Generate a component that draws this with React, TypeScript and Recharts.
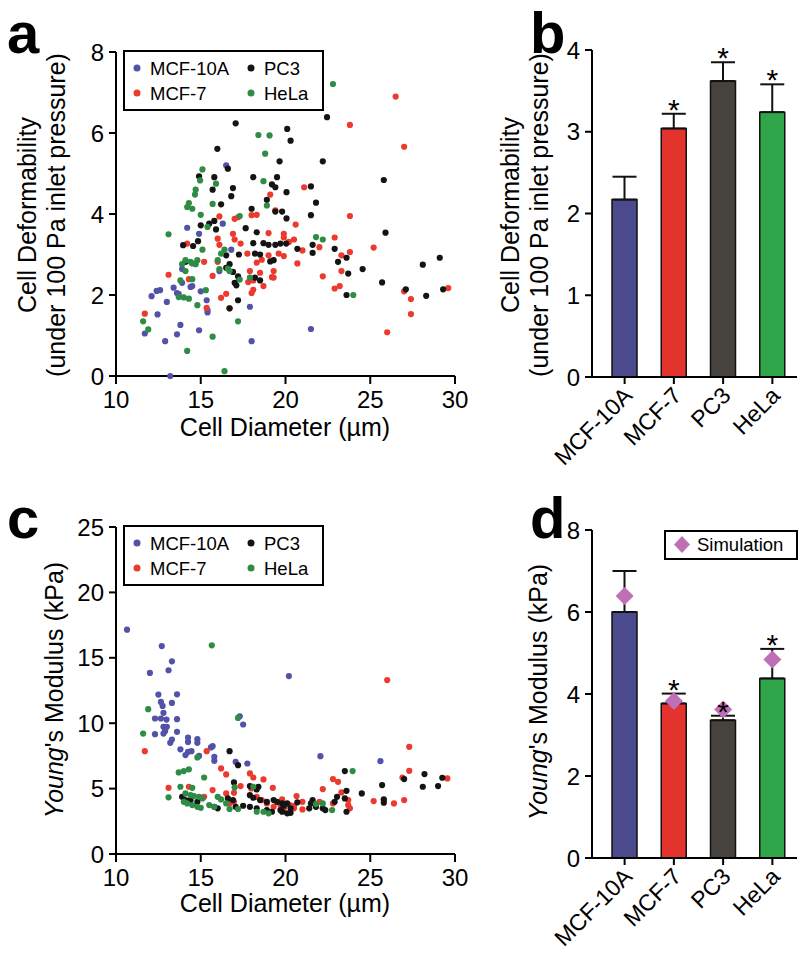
import React from "react";
import {
  Bar,
  Cell,
  ComposedChart,
  ErrorBar,
  Legend,
  Scatter,
  ScatterChart,
  XAxis,
  YAxis,
} from "recharts";

const FONT = "Arial, 'Liberation Sans', Helvetica, sans-serif";

const cellLines = ["MCF-10A", "MCF-7", "PC3", "HeLa"];
const dotColors = ["#5152a8", "#ec3a2f", "#141414", "#2e8c45"];
const barColors = ["#4a4a8c", "#e2332c", "#46423d", "#30a64b"];
const simColor = "#bf6fb6";

// panel a: [cell diameter (µm), deformability]
const defMCF10A = [
  [16.5, 5.2], [16.3, 3.76], [14.2, 3.66], [14.9, 3.51], [16.8, 3.12], [16.1, 2.59], [13.9, 2.64],
  [13.9, 2.3], [17.25, 2.4], [14.5, 2.22], [14.4, 2.2], [13.4, 2.18], [13.6, 2.05], [13.7, 2.02],
  [15.0, 2.09], [12.6, 2.12], [12.4, 2.1], [12.1, 1.97], [13.0, 1.83], [15.35, 1.87], [15.4, 1.63],
  [15.4, 1.57], [17.9, 1.71], [12.45, 1.52], [11.7, 1.05], [13.8, 1.26], [13.6, 1.03], [12.9, 0.86],
  [14.9, 1.13], [18.0, 0.86], [13.2, 0.0], [21.5, 1.16],
];
const defMCF7 = [
  [19.1, 4.48], [19.4, 4.09], [16.1, 3.94], [17.0, 3.88], [17.2, 3.92], [18.0, 3.97], [18.3, 3.98],
  [26.5, 6.9], [23.8, 6.2], [27.0, 5.66], [21.1, 4.66], [23.8, 3.95], [20.6, 3.74], [19.9, 3.51],
  [19.9, 3.42], [20.5, 3.37], [20.2, 3.31], [22.9, 3.42], [22.0, 3.18], [25.2, 3.17], [21.0, 3.1],
  [23.8, 3.06], [19.9, 2.96], [23.3, 2.98], [20.7, 2.78], [23.3, 2.59], [22.2, 2.46], [23.2, 2.22],
  [22.9, 2.16], [29.6, 2.17], [27.0, 2.09], [27.4, 1.9], [27.4, 1.53], [26.0, 1.08], [16.9, 3.51],
  [17.0, 3.37], [19.0, 3.53], [14.2, 3.27], [16.0, 3.39], [16.1, 3.24], [17.35, 3.27], [17.75, 3.02],
  [19.6, 3.02], [19.0, 2.98], [18.6, 2.87], [18.3, 2.8], [15.2, 2.82], [16.0, 2.82], [17.9, 2.59],
  [18.5, 2.55], [19.3, 2.59], [19.2, 2.44], [19.3, 2.43], [15.7, 2.47], [13.1, 2.5], [14.3, 2.39],
  [17.8, 2.32], [18.1, 2.36], [18.7, 2.22], [18.1, 2.13], [18.0, 2.05], [16.5, 2.03], [16.2, 1.93],
  [16.7, 1.67], [15.35, 1.68], [11.7, 1.54],
];
const defPC3 = [
  [17.06, 6.24], [20.1, 6.1], [15.98, 5.61], [16.6, 5.12], [19.65, 5.3], [14.9, 4.93], [15.8, 4.91],
  [18.1, 4.91], [19.5, 4.91], [19.2, 4.73], [19.4, 4.66], [20.06, 4.54], [16.9, 4.64], [15.7, 4.6],
  [16.8, 4.44], [18.9, 4.35], [16.2, 4.24], [18.0, 4.13], [22.45, 6.39], [20.3, 5.81], [22.2, 5.3],
  [25.8, 4.84], [21.5, 4.68], [21.8, 4.28], [19.8, 4.06], [19.4, 4.06], [21.5, 3.97], [20.06, 3.89],
  [25.9, 3.54], [19.7, 3.27], [20.04, 3.27], [21.6, 3.24], [20.7, 3.14], [22.9, 3.14], [21.6, 3.04],
  [23.6, 2.92], [29.1, 2.92], [23.1, 2.82], [28.1, 2.75], [24.55, 2.64], [23.7, 2.53], [25.7, 2.31],
  [29.3, 2.14], [27.1, 2.14], [23.6, 2.0], [28.3, 1.98], [17.65, 3.65], [15.0, 3.72], [15.5, 3.76],
  [15.8, 3.83], [15.9, 3.62], [18.3, 3.55], [19.4, 3.24], [13.96, 3.23], [14.55, 3.21], [14.84, 3.33],
  [18.1, 3.28], [18.7, 3.28], [19.0, 3.24], [17.25, 3.0], [16.5, 2.98], [18.5, 3.0], [18.2, 3.02],
  [19.3, 2.86], [19.1, 2.83], [14.1, 2.82], [16.7, 2.76], [16.5, 2.67], [16.9, 2.57], [17.2, 2.46],
  [17.0, 2.3], [17.1, 2.24], [18.2, 2.43], [18.5, 2.36], [17.2, 1.87], [16.7, 1.67],
];
const defHeLa = [
  [22.8, 7.21], [18.4, 5.95], [19.06, 5.94], [18.8, 5.49], [15.1, 5.1], [14.96, 4.83], [15.9, 4.75],
  [18.7, 4.81], [14.7, 4.6], [14.66, 4.48], [14.3, 4.27], [14.2, 4.17], [14.5, 4.13], [15.7, 4.25],
  [18.9, 4.21], [15.0, 3.98], [17.3, 3.95], [21.8, 3.43], [22.2, 3.37], [24.0, 2.0], [15.4, 3.68],
  [13.1, 3.5], [15.1, 3.12], [16.4, 3.12], [16.2, 3.02], [14.1, 2.86], [14.4, 2.82], [14.8, 2.86],
  [14.7, 2.76], [14.5, 2.78], [13.9, 2.76], [14.1, 2.59], [16.0, 2.86], [16.6, 2.65], [16.7, 2.59],
  [16.1, 2.64], [13.8, 2.36], [14.5, 2.39], [17.3, 2.38], [17.9, 2.43], [15.3, 2.12], [13.7, 1.95],
  [14.0, 1.94], [14.3, 1.91], [14.8, 1.75], [11.6, 1.35], [11.9, 1.15], [17.2, 1.35], [15.7, 0.97],
  [14.2, 0.62], [16.4, 0.12],
];

// panel c: [cell diameter (µm), Young's modulus (kPa)]
const ymMCF10A = [
  [10.65, 17.15], [12.7, 15.9], [13.3, 14.73], [12.0, 13.84], [13.1, 14.05], [20.2, 13.6], [12.5, 12.19],
  [13.6, 12.21], [12.65, 11.63], [12.75, 11.32], [13.3, 11.55], [12.8, 10.79], [12.3, 10.36], [12.65, 10.36],
  [12.98, 10.28], [13.6, 10.31], [17.3, 10.53], [17.5, 9.9], [12.8, 9.72], [13.0, 9.72], [12.9, 9.41],
  [12.8, 9.21], [13.6, 9.34], [12.3, 9.16], [13.3, 8.75], [13.2, 8.5], [14.25, 8.9], [14.25, 8.57],
  [14.8, 8.78], [14.8, 8.5], [13.8, 8.0], [14.1, 7.56], [14.25, 7.81], [14.45, 7.86], [15.6, 8.15],
  [15.7, 8.24], [14.9, 7.5], [15.8, 7.43], [15.8, 7.12], [17.06, 7.05], [17.75, 6.92], [22.06, 7.48],
  [25.6, 7.1],
];
const ymMCF7 = [
  [26.0, 13.3], [11.7, 7.86], [15.35, 7.86], [16.2, 6.54], [16.5, 6.08], [17.9, 6.16], [18.1, 5.85],
  [18.7, 5.7], [13.1, 5.06], [14.3, 5.14], [17.35, 5.19], [17.98, 5.01], [19.25, 5.06], [15.7, 4.89],
  [16.5, 4.63], [16.96, 4.68], [15.2, 4.37], [16.7, 3.87], [16.96, 3.99], [18.3, 4.37], [18.6, 4.12],
  [18.9, 3.87], [19.3, 3.61], [19.7, 3.74], [20.25, 3.74], [27.3, 8.19], [27.3, 6.36], [22.8, 5.73],
  [23.1, 5.52], [26.9, 5.85], [29.55, 5.78], [22.2, 4.96], [23.3, 4.71], [20.65, 4.43], [19.8, 4.17],
  [23.7, 4.12], [23.7, 3.74], [23.8, 3.49], [22.0, 3.99], [22.8, 3.87], [21.0, 3.99], [20.5, 3.69],
  [21.0, 3.41], [25.2, 4.05], [25.8, 4.12], [26.4, 3.87], [27.0, 4.12], [19.9, 3.5], [20.5, 3.49],
];
const ymPC3 = [
  [16.7, 7.86], [17.2, 6.79], [16.96, 5.47], [17.9, 5.19], [18.4, 5.14], [18.3, 4.94], [13.9, 4.37],
  [14.1, 4.12], [14.4, 4.12], [14.8, 3.99], [15.8, 3.61], [16.0, 3.49], [16.6, 4.25], [16.9, 4.12],
  [17.06, 3.61], [17.5, 3.69], [17.9, 3.61], [18.3, 3.49], [18.9, 3.36], [19.2, 3.23], [19.7, 3.36],
  [20.1, 3.11], [17.9, 4.5], [18.1, 4.3], [18.5, 4.12], [18.9, 3.99], [19.3, 4.12], [19.5, 3.99],
  [19.8, 3.87], [23.5, 6.34], [27.0, 5.73], [28.2, 6.11], [29.25, 5.83], [25.7, 5.27], [23.6, 4.83],
  [24.5, 4.63], [28.1, 5.14], [29.0, 5.19], [23.04, 4.37], [23.5, 4.25], [22.9, 3.99], [21.6, 4.12],
  [21.5, 3.87], [20.7, 3.95], [20.1, 3.87], [19.9, 3.69], [20.3, 3.49], [19.8, 3.23], [20.3, 3.15],
  [21.4, 3.49], [21.8, 3.61], [22.2, 3.49], [22.35, 3.36], [23.6, 3.23], [25.8, 4.17], [25.8, 3.92],
];
const ymHeLa = [
  [15.65, 15.95], [11.9, 11.07], [17.2, 10.4], [11.6, 9.21], [14.8, 7.38], [13.7, 6.24], [14.0, 6.34],
  [14.3, 6.47], [15.2, 5.85], [13.8, 5.14], [14.5, 5.06], [13.1, 4.33], [17.0, 5.09], [18.1, 5.14],
  [14.0, 3.99], [14.2, 3.87], [14.5, 3.74], [14.8, 3.61], [15.0, 3.53], [14.1, 4.63], [14.4, 4.5],
  [14.6, 4.43], [14.9, 4.37], [15.1, 4.25], [15.5, 3.74], [15.8, 3.61], [16.0, 4.37], [16.2, 4.17],
  [16.5, 3.87], [16.7, 3.44], [17.2, 3.44], [18.3, 3.23], [18.7, 3.23], [19.0, 3.11], [23.96, 6.34],
  [21.8, 3.82], [22.2, 3.87], [22.75, 3.36],
];

// panel b / d: mean, upper error, significance, simulation
const deformMean = [2.17, 3.04, 3.62, 3.24];
const deformErr = [0.28, 0.18, 0.23, 0.34];
const deformSig = [false, true, true, true];
const modulusMean = [6.0, 3.77, 3.36, 4.38];
const modulusErr = [1.0, 0.24, 0.11, 0.72];
const modulusSig = [false, true, true, true];
const modulusSim = [6.39, 3.83, 3.62, 4.84];

const diameterTicks = [10, 15, 20, 25, 30];
const deformTicks = [0, 2, 4, 6, 8];
const modulusTicks = [0, 5, 10, 15, 20, 25];
const deformBarTicks = [0, 1, 2, 3, 4];
const modulusBarTicks = [0, 2, 4, 6, 8];

const pts = (arr: number[][]) => arr.map(([x, y]) => ({ x, y }));

const barRows = (mean: number[], err: number[], sig: boolean[], sim?: number[]) =>
  cellLines.map((name, i) => ({
    name,
    mean: mean[i],
    err: [0, err[i]],
    star: sig[i] ? mean[i] + err[i] : null,
    sim: sim ? sim[i] : null,
  }));

const axisStyle = { stroke: "#000", strokeWidth: 2 };
const tickFont = { fontSize: 24, fill: "#000", fontFamily: FONT };

const dot = (color: string) => (p: any) =>
  p.cx == null ? <g /> : <circle cx={p.cx} cy={p.cy} r={3.1} fill={color} />;

const StarMark = (p: any) =>
  p.cx == null || p.payload?.star == null ? (
    <g />
  ) : (
    <text x={p.cx} y={p.cy + 6} textAnchor="middle" fontSize={30} fontFamily={FONT} fill="#000">
      *
    </text>
  );

const DiamondMark = (p: any) =>
  p.cx == null ? (
    <g />
  ) : (
    <polygon
      points={`${p.cx},${p.cy - 9} ${p.cx + 9},${p.cy} ${p.cx},${p.cy + 9} ${p.cx - 9},${p.cy}`}
      fill={simColor}
    />
  );

const CatTick = (p: any) => (
  <g transform={`translate(${p.x + 9},${p.y + 11})`}>
    <text textAnchor="end" transform="rotate(-45)" fontSize={23} fontFamily={FONT} fill="#000">
      {p.payload.value}
    </text>
  </g>
);

function CellLegend() {
  const cols = [14, 128];
  const rows = [18, 43];
  return (
    <svg width={201} height={61} style={{ display: "block" }}>
      <rect x={1} y={1} width={199} height={59} fill="#fff" stroke="#000" strokeWidth={2} />
      {cellLines.map((name, i) => {
        const cx = cols[i === 0 || i === 1 ? 0 : 1];
        const cy = rows[i === 0 || i === 2 ? 0 : 1];
        return (
          <g key={name}>
            <circle cx={cx} cy={cy} r={3.5} fill={dotColors[i]} />
            <text x={cx + 13} y={cy + 6.5} fontSize={18.5} fontFamily={FONT} fill="#000">
              {name}
            </text>
          </g>
        );
      })}
    </svg>
  );
}

function SimLegend() {
  return (
    <svg width={134} height={30} style={{ display: "block" }}>
      <rect x={1} y={1} width={132} height={28} fill="#fff" stroke="#000" strokeWidth={2} />
      <polygon points="18,6 26,14.5 18,23 10,14.5" fill={simColor} />
      <text x={33} y={21} fontSize={18.5} fontFamily={FONT} fill="#000">
        Simulation
      </text>
    </svg>
  );
}

function DiameterScatter(props: {
  sets: number[][][];
  yTicks: number[];
  height: number;
  top: number;
  xAxisHeight: number;
}) {
  const { sets, yTicks, height, top, xAxisHeight } = props;
  return (
    <ScatterChart width={470} height={height} margin={{ top, right: 15, bottom: 0, left: 0 }}>
      <XAxis
        type="number"
        dataKey="x"
        domain={[10, 30]}
        ticks={diameterTicks}
        height={xAxisHeight}
        axisLine={axisStyle}
        tickLine={axisStyle}
        tickSize={8}
        tickMargin={7}
        tick={tickFont}
      />
      <YAxis
        type="number"
        dataKey="y"
        domain={[yTicks[0], yTicks[yTicks.length - 1]]}
        ticks={yTicks}
        width={116}
        axisLine={axisStyle}
        tickLine={axisStyle}
        tickSize={7}
        tickMargin={5}
        tick={tickFont}
      />
      <Legend
        layout="vertical"
        align="center"
        verticalAlign="middle"
        content={() => <CellLegend />}
        wrapperStyle={{ left: 123, top: top - 2, width: 201, height: 61 }}
      />
      {sets.map((s, i) => (
        <Scatter
          key={cellLines[i]}
          name={cellLines[i]}
          data={pts(s)}
          shape={dot(dotColors[i])}
          isAnimationActive={false}
        />
      ))}
    </ScatterChart>
  );
}

function MeanBars(props: {
  rows: any[];
  yTicks: number[];
  height: number;
  top: number;
  xAxisHeight: number;
  withSim?: boolean;
}) {
  const { rows, yTicks, height, top, xAxisHeight, withSim } = props;
  return (
    <ComposedChart width={320} height={height} data={rows} margin={{ top, right: 3, bottom: 0, left: 0 }}>
      <XAxis
        dataKey="name"
        type="category"
        padding={{ left: 8, right: 0 }}
        height={xAxisHeight}
        axisLine={axisStyle}
        tickLine={axisStyle}
        tickSize={7}
        tickMargin={2}
        interval={0}
        tick={<CatTick />}
      />
      <YAxis
        type="number"
        domain={[yTicks[0], yTicks[yTicks.length - 1]]}
        ticks={yTicks}
        width={112}
        axisLine={axisStyle}
        tickLine={axisStyle}
        tickSize={7}
        tickMargin={5}
        tick={tickFont}
      />
      {withSim && (
        <Legend
          layout="vertical"
          align="center"
          verticalAlign="middle"
          content={() => <SimLegend />}
          wrapperStyle={{ left: 184, top, width: 134, height: 30 }}
        />
      )}
      <Bar dataKey="mean" barSize={25} stroke="#111" strokeWidth={1.5} isAnimationActive={false}>
        {rows.map((r, i) => (
          <Cell key={r.name} fill={barColors[i]} />
        ))}
        <ErrorBar dataKey="err" direction="y" width={12} stroke="#111" strokeWidth={2} />
      </Bar>
      {withSim && <Scatter dataKey="sim" shape={DiamondMark} isAnimationActive={false} />}
      <Scatter dataKey="star" shape={StarMark} isAnimationActive={false} />
    </ComposedChart>
  );
}

export default function App() {
  const txt = { fontFamily: FONT, fill: "#000" } as const;
  return (
    <div style={{ position: "absolute", left: 0, top: 0, width: 800, height: 963, background: "#fff" }}>
      <div style={{ position: "absolute", left: 0, top: 0 }}>
        <DiameterScatter
          sets={[defMCF10A, defMCF7, defPC3, defHeLa]}
          yTicks={deformTicks}
          height={440}
          top={52}
          xAxisHeight={64}
        />
      </div>
      <div style={{ position: "absolute", left: 0, top: 470 }}>
        <DiameterScatter
          sets={[ymMCF10A, ymMCF7, ymPC3, ymHeLa]}
          yTicks={modulusTicks}
          height={450}
          top={57}
          xAxisHeight={66}
        />
      </div>
      <div style={{ position: "absolute", left: 480, top: 0 }}>
        <MeanBars
          rows={barRows(deformMean, deformErr, deformSig)}
          yTicks={deformBarTicks}
          height={470}
          top={50}
          xAxisHeight={93}
        />
      </div>
      <div style={{ position: "absolute", left: 480, top: 490 }}>
        <MeanBars
          rows={barRows(modulusMean, modulusErr, modulusSig, modulusSim)}
          yTicks={modulusBarTicks}
          height={473}
          top={40}
          xAxisHeight={105}
          withSim
        />
      </div>
      <svg
        width={800}
        height={963}
        style={{ position: "absolute", left: 0, top: 0, pointerEvents: "none" }}
      >
        <g {...txt} fontSize={58} fontWeight="bold">
          <text x={7} y={52.5}>a</text>
          <text x={530} y={52.5}>b</text>
          <text x={7} y={538}>c</text>
          <text x={530} y={538}>d</text>
        </g>
        <g {...txt} fontSize={25} textAnchor="middle">
          <text x={285} y={436}>Cell Diameter (µm)</text>
          <text x={285} y={912}>Cell Diameter (µm)</text>
          <text transform="translate(36,215) rotate(-90)">Cell Deformability</text>
          <text transform="translate(65,215) rotate(-90)">(under 100 Pa inlet pressure)</text>
          <text transform="translate(519,215) rotate(-90)">Cell Deformability</text>
          <text transform="translate(548,215) rotate(-90)">(under 100 Pa inlet pressure)</text>
          <text transform="translate(63,690) rotate(-90)">
            <tspan fontStyle="italic">Young</tspan>'s Modulus (kPa)
          </text>
          <text transform="translate(547,692) rotate(-90)">
            <tspan fontStyle="italic">Young</tspan>'s Modulus (kPa)
          </text>
        </g>
      </svg>
    </div>
  );
}
